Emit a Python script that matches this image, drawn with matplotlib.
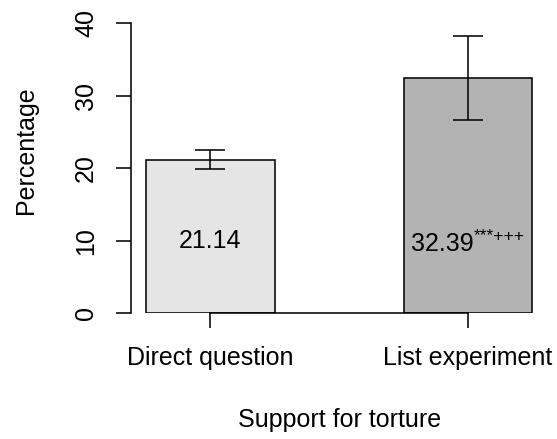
import numpy as np
import matplotlib
matplotlib.use('Agg')
import matplotlib.pyplot as plt
from matplotlib.transforms import ScaledTranslation

plt.rcParams['font.family'] = ['Liberation Sans', 'DejaVu Sans']
plt.rcParams['font.size'] = 12

# share of respondents supporting torture, with interval ends
groups = ['Direct question', 'List experiment']
support = [21.14, 32.39]
ci_low = [19.86, 26.66]
ci_high = [22.50, 38.30]
stars = ['', '***+++']
bar_colors = ['#e5e5e5', '#b3b3b3']

DPI = 150
fig = plt.figure(figsize=(557 / DPI, 439 / DPI), dpi=DPI)
ax = fig.add_axes([130.6 / 557, 1 - 313.3 / 439, 417.1 / 557, 290 / 439])

xpos = np.array([1.5, 3.5])
vals = np.array(support)
ax.bar(xpos, vals, width=1.0, color=bar_colors, edgecolor='black', linewidth=0.75, zorder=2)
yerr = [vals - np.array(ci_low), np.array(ci_high) - vals]
ax.errorbar(xpos, vals, yerr=yerr, fmt='none', ecolor='black', elinewidth=0.75,
            capsize=7.2, capthick=0.75, zorder=3)

ax.set_xlim(0.88, 4.12)
ax.set_ylim(0, 40)
ax.set_yticks([0, 10, 20, 30, 40])
ax.set_xticks(xpos, groups)

for side in ['top', 'right']:
    ax.spines[side].set_visible(False)
for side in ['left', 'bottom']:
    ax.spines[side].set_linewidth(0.75)
ax.spines['bottom'].set_bounds(xpos[0], xpos[-1])

ax.tick_params(axis='both', direction='out', length=7.2, width=0.75, labelsize=12)
ax.tick_params(axis='x', pad=8.4)
ax.tick_params(axis='y', pad=8.5, labelrotation=90)
plt.setp(ax.get_yticklabels(), va='center', ha='right')

ax.set_ylabel('Percentage', fontsize=12)
ax.yaxis.label.set_va('center')
ax.yaxis.set_label_coords(-0.25, 0.563)
ax.set_xlabel('Support for torture', fontsize=12)
ax.xaxis.label.set_va('center')
ax.xaxis.set_label_coords(0.5, -0.3666)

# value labels inside the bars, significance marks as superscript
labels = []
for xc, v, s in zip(xpos, support, stars):
    t = ax.text(xc, 10, f'{v:.2f}', ha='center', va='center', fontsize=12, zorder=4)
    sup = None
    if s:
        sup = ax.annotate(s, xy=(1.0, 0.62), xycoords=t, ha='left', va='baseline',
                          fontsize=8.4, zorder=4)
    labels.append((t, sup))

fig.canvas.draw()
for t, sup in labels:
    if sup is not None:
        w = sup.get_window_extent().width
        t.set_transform(ax.transData + ScaledTranslation(-w / 2 / DPI, -3 / DPI, fig.dpi_scale_trans))

fig.savefig('out.png', dpi=DPI)
